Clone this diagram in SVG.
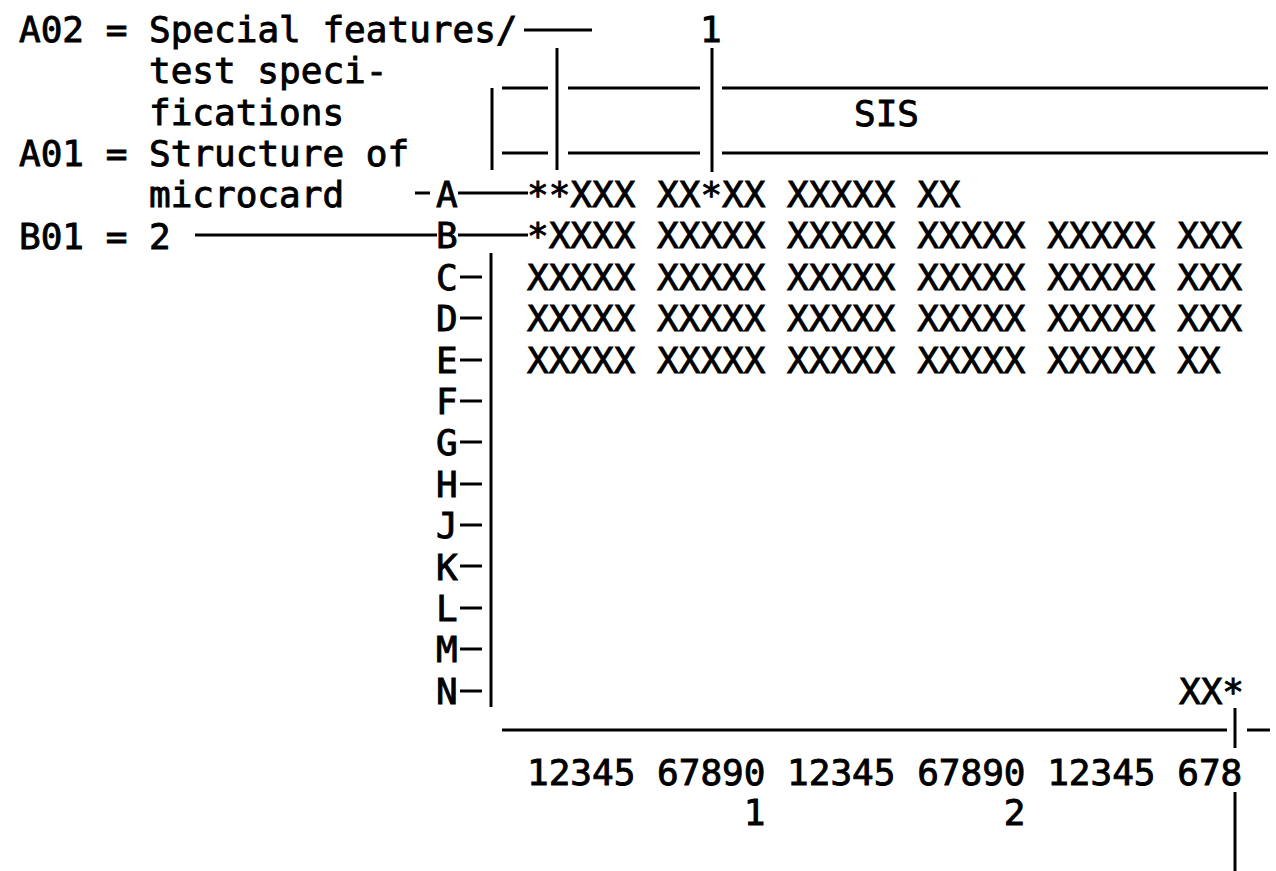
<svg xmlns="http://www.w3.org/2000/svg" width="1276" height="871" viewBox="0 0 1276 871">
<style>
text{font-family:"DejaVu Sans Mono","Liberation Mono",monospace;font-size:36px;fill:#000;stroke:#000;stroke-width:0.9}
line{stroke:#000;stroke-width:3;stroke-linecap:butt}
</style>
<rect width="1276" height="871" fill="#fff"/>
<g id="legend">
<text x="19" y="42">A02 = Special features/</text>
<text x="149" y="83">test speci-</text>
<text x="149" y="125">fications</text>
<text x="19" y="166">A01 = Structure of</text>
<text x="149" y="207">microcard</text>
<text x="19" y="249">B01 = 2</text>
</g>
<g id="header">
<text x="700" y="42">1</text>
<text x="854" y="126">SIS</text>
</g>
<g id="row-labels">
<text x="436" y="207">A</text>
<text x="436" y="248.4">B</text>
<text x="436" y="289.8">C</text>
<text x="436" y="331.2">D</text>
<text x="436" y="372.6">E</text>
<text x="436" y="414">F</text>
<text x="436" y="455.4">G</text>
<text x="436" y="496.8">H</text>
<text x="436" y="538.2">J</text>
<text x="436" y="579.6">K</text>
<text x="436" y="621">L</text>
<text x="436" y="662.4">M</text>
<text x="436" y="703.8">N</text>
</g>
<g id="data">
<text x="527" y="207">**XXX XX*XX XXXXX XX</text>
<text x="527" y="248.4">*XXXX XXXXX XXXXX XXXXX XXXXX XXX</text>
<text x="527" y="289.8">XXXXX XXXXX XXXXX XXXXX XXXXX XXX</text>
<text x="527" y="331.2">XXXXX XXXXX XXXXX XXXXX XXXXX XXX</text>
<text x="527" y="372.6">XXXXX XXXXX XXXXX XXXXX XXXXX XX</text>
<text x="1179" y="703.8">XX*</text>
</g>
<g id="axis">
<text x="527" y="785">12345 67890 12345 67890 12345 678</text>
<text x="743.7" y="825">1</text>
<text x="1003.7" y="825">2</text>
</g>
<g id="connectors">
<line x1="524" y1="30" x2="592" y2="30"/>
<line x1="557" y1="48" x2="557" y2="170"/>
<line x1="712" y1="48" x2="712" y2="172"/>
<line x1="492" y1="88" x2="492" y2="170"/>
<line x1="502" y1="88" x2="548" y2="88"/>
<line x1="568" y1="88" x2="700" y2="88"/>
<line x1="722" y1="88" x2="1268" y2="88"/>
<line x1="502" y1="153" x2="548" y2="153"/>
<line x1="568" y1="153" x2="700" y2="153"/>
<line x1="722" y1="153" x2="1268" y2="153"/>
<line x1="415" y1="193" x2="430" y2="193"/>
<line x1="458" y1="193" x2="528" y2="193"/>
<line x1="195" y1="235" x2="437" y2="235"/>
<line x1="458" y1="235" x2="528" y2="235"/>
<line x1="460" y1="277" x2="482" y2="277"/>
<line x1="460" y1="318" x2="482" y2="318"/>
<line x1="460" y1="360" x2="482" y2="360"/>
<line x1="460" y1="401" x2="482" y2="401"/>
<line x1="460" y1="442" x2="482" y2="442"/>
<line x1="460" y1="484" x2="482" y2="484"/>
<line x1="460" y1="525" x2="482" y2="525"/>
<line x1="460" y1="566" x2="482" y2="566"/>
<line x1="460" y1="608" x2="482" y2="608"/>
<line x1="460" y1="649" x2="482" y2="649"/>
<line x1="460" y1="691" x2="482" y2="691"/>
<line x1="491" y1="253" x2="491" y2="707"/>
<line x1="502" y1="730" x2="1227" y2="730"/>
<line x1="1235" y1="708" x2="1235" y2="748"/>
<line x1="1247" y1="730" x2="1270" y2="730"/>
<line x1="1235" y1="792" x2="1235" y2="871"/>
</g>
</svg>
